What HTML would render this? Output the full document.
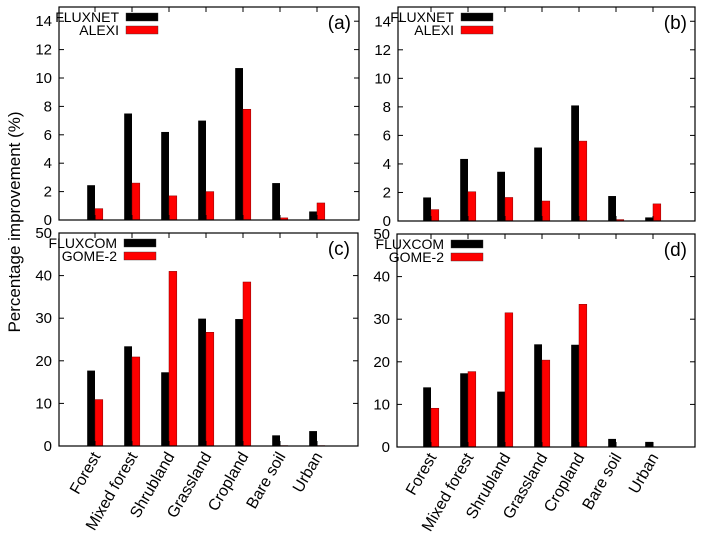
<!DOCTYPE html>
<html><head><meta charset="utf-8"><style>
body{margin:0;background:#fff}
svg{display:block;font-family:"Liberation Sans",sans-serif}
</style></head><body>
<svg id="chart" width="702" height="537" viewBox="0 0 702 537" xmlns="http://www.w3.org/2000/svg">
<text transform="translate(20,222) rotate(-90)" text-anchor="middle" font-size="17">Percentage improvement (%)</text>
</svg>
<script>
const categories = ["Forest","Mixed forest","Shrubland","Grassland","Cropland","Bare soil","Urban"];
const aFluxnet = [2.45,7.5,6.2,7.0,10.7,2.6,0.6];
const aAlexi = [0.8,2.6,1.7,2.0,7.8,0.15,1.2];
const bFluxnet = [1.65,4.35,3.45,5.15,8.1,1.75,0.25];
const bAlexi = [0.8,2.05,1.65,1.4,5.6,0.1,1.2];
const cFluxcom = [17.7,23.4,17.3,29.9,29.8,2.5,3.5];
const cGome = [10.9,20.9,41,26.7,38.5,0.1,0.1];
const dFluxcom = [14,17.3,13,24.1,24,1.9,1.2];
const dGome = [9.1,17.7,31.5,20.4,33.5,0,0];
const ticksTop = [0,2,4,6,8,10,12,14];
const ticksBottom = [0,10,20,30,40,50];

const NS="http://www.w3.org/2000/svg";
const svg=document.getElementById('chart');
function el(tag,attrs,parent){const e=document.createElementNS(NS,tag);for(const k in attrs)e.setAttribute(k,attrs[k]);(parent||svg).appendChild(e);return e;}

function panel(p){
  const g=el('g',{});
  
  
  const y=v=>p.bottom-(v/p.ymax)*(p.bottom-p.top);
  const x=i=>p.first+i*37;
  const bw=7.8;
  p.s1.forEach((v,i)=>{
    const r=el('rect',{x:x(i)-bw,y:y(v),width:bw,height:p.bottom-y(v),fill:'#000'},g);
    
    
  });
  p.s2.forEach((v,i)=>{
    const r=el('rect',{x:x(i),y:y(v),width:bw,height:p.bottom-y(v),fill:'#f00',stroke:'#800','stroke-width':0.5},g);
    
    
  });
  const f=el('rect',{x:p.left,y:p.top,width:p.right-p.left,height:p.bottom-p.top,fill:'none',stroke:'#000','stroke-width':1.2},g);
  
  
  p.ticks.forEach(t=>{
    const yy=y(t);
    el('line',{x1:p.left,x2:p.left+5,y1:yy,y2:yy,stroke:'#000'},g);
    el('line',{x1:p.right,x2:p.right-5,y1:yy,y2:yy,stroke:'#000'},g);
    const tx=el('text',{x:p.left-7,y:yy+5,'text-anchor':'end','font-size':15},g);
    tx.textContent=t;
    
    
  });
  categories.forEach((c,i)=>{
    el('line',{x1:x(i),x2:x(i),y1:p.bottom,y2:p.bottom-5,stroke:'#000'},g);
    el('line',{x1:x(i),x2:x(i),y1:p.top,y2:p.top+5,stroke:'#000'},g);
    if(p.labels){
      const t=el('text',{transform:`translate(${x(i)+6},${p.bottom+10}) rotate(-60)`,'text-anchor':'end','font-size':16},g);
      t.textContent=c;
      
      
    }
  });
  const lx=p.left+p.legOff;
  [[p.n1,'#000'],[p.n2,'#f00']].forEach((it,k)=>{
    const ly=p.top+10+k*13;
    const t=el('text',{x:lx,y:ly+5,'text-anchor':'end','font-size':14},g);
    t.textContent=it[0];
    
    
    const r=el('rect',{x:lx+7,y:ly-4,width:32,height:8,fill:it[1],stroke:'#333','stroke-width':0.4},g);
    
    
  });
  const pl=el('text',{x:p.right-8,y:p.top+22,'text-anchor':'end','font-size':19},g);
  pl.textContent='('+p.id+')';
  
  
}
panel({id:'a',left:59,right:359,top:7,bottom:220,ymax:15,first:95,ticks:ticksTop,s1:aFluxnet,s2:aAlexi,n1:'FLUXNET',n2:'ALEXI',legOff:60,labels:false});
panel({id:'b',left:398,right:695,top:7,bottom:221,ymax:15,first:431,ticks:ticksTop,s1:bFluxnet,s2:bAlexi,n1:'FLUXNET',n2:'ALEXI',legOff:56,labels:false});
panel({id:'c',left:59,right:358,top:233,bottom:446,ymax:50,first:95,ticks:ticksBottom,s1:cFluxcom,s2:cGome,n1:'FLUXCOM',n2:'GOME-2',legOff:58,labels:true});
panel({id:'d',left:397,right:695,top:234,bottom:447,ymax:50,first:431,ticks:ticksBottom,s1:dFluxcom,s2:dGome,n1:'FLUXCOM',n2:'GOME-2',legOff:47,labels:true});
</script>
</body></html>
